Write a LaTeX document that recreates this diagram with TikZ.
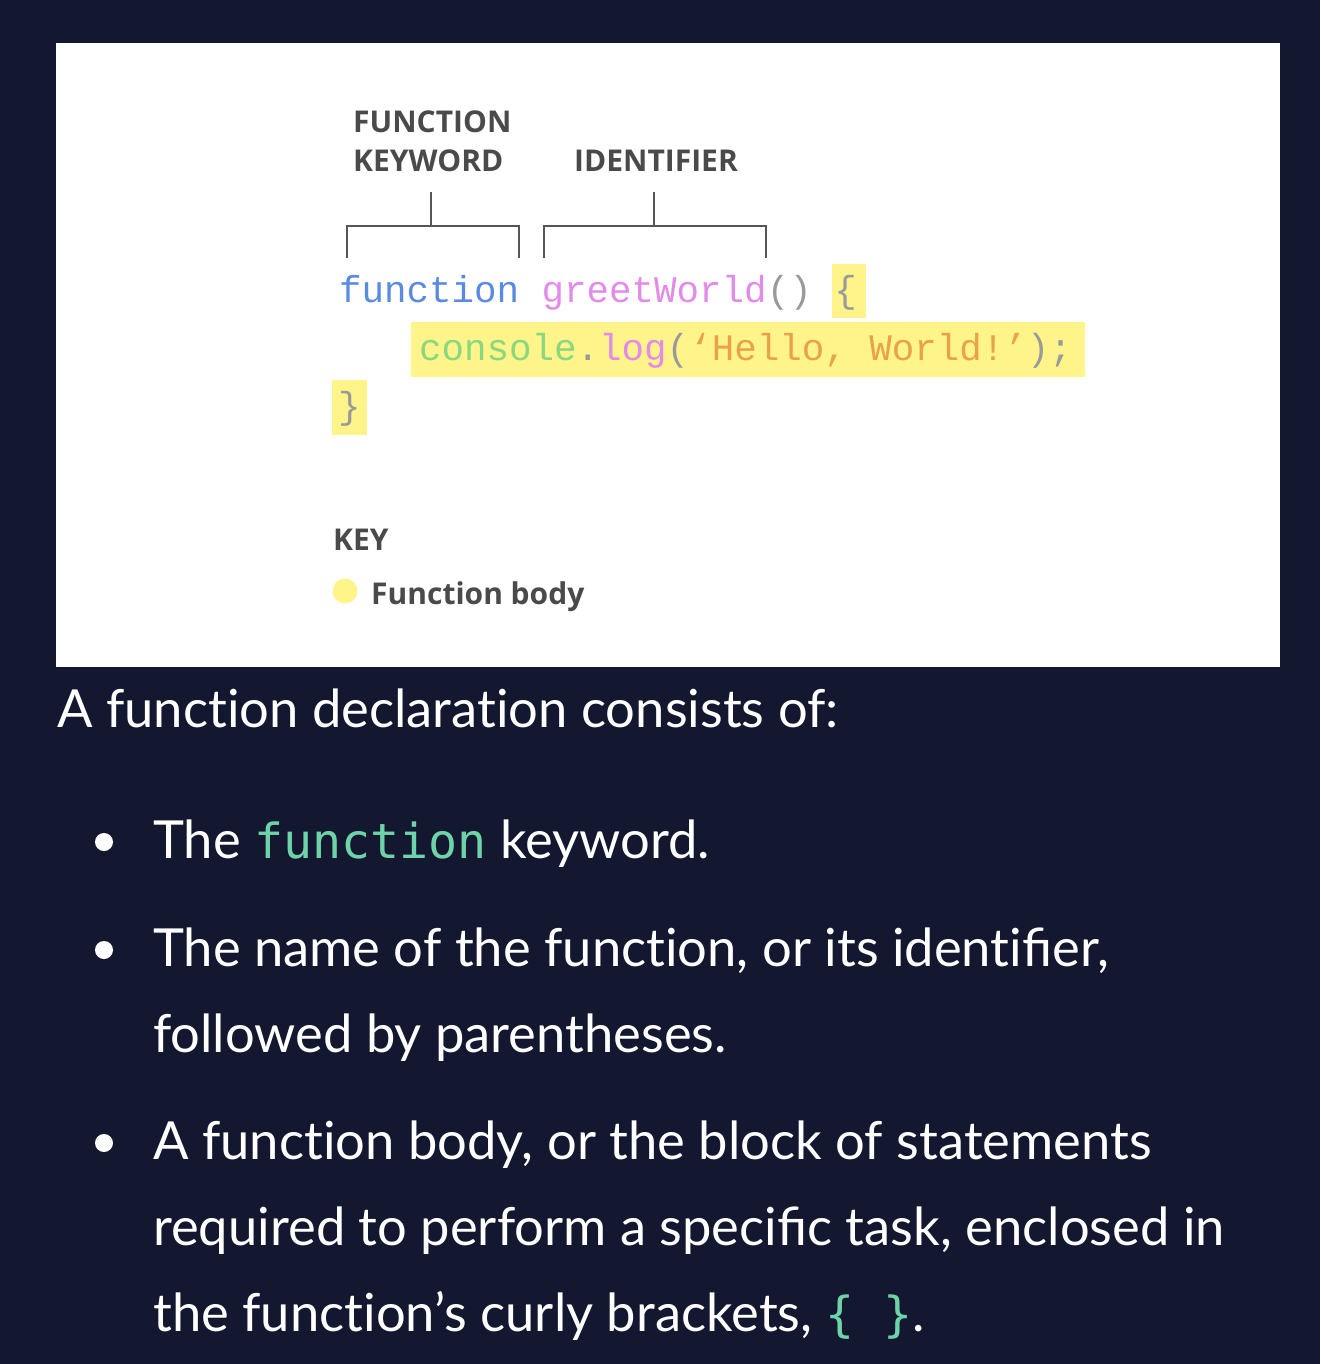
\documentclass[tikz,border=0pt]{standalone}
\usepackage{fontspec}
\setmainfont{Lato}[RawFeature={-liga;-dlig}]
\newfontfamily\lbl{Open Sans}
\newfontfamily\cmono{Liberation Mono}
\newfontfamily\imono{DejaVu Sans Mono}
\definecolor{bg}{HTML}{131830}
\definecolor{lblc}{HTML}{4A4A4A}
\definecolor{brk}{HTML}{555555}
\definecolor{hl}{HTML}{FFF48A}
\definecolor{kwblue}{HTML}{5A8BE0}
\definecolor{idpink}{HTML}{E38BE8}
\definecolor{pgrey}{HTML}{9A9A9A}
\definecolor{cgreen}{HTML}{8AD77E}
\definecolor{sorange}{HTML}{E8A24A}
\definecolor{mint}{HTML}{6ED3A8}
\tikzset{
  lbltext/.style={inner sep=0pt, anchor=base west, text=lblc, font=\lbl\fontsize{30}{34}\selectfont\bfseries},
  codetext/.style={inner sep=0pt, anchor=base west, font=\cmono\fontsize{37.5}{40}\selectfont},
  bodytext/.style={inner sep=0pt, anchor=base west, text=white, font=\fontsize{52.5}{56}\selectfont},
  bracketline/.style={draw=brk, line width=2.5pt},
  hlbox/.style={fill=hl, draw=none},
  bulletdot/.style={circle, fill=white, minimum size=18pt, inner sep=0pt}
}
\newcommand{\icode}[1]{\textcolor{mint}{\imono\fontsize{48.3}{56}\selectfont #1}}
\begin{document}
\begin{tikzpicture}[x=1pt,y=-1pt]
\useasboundingbox (0,0) rectangle (1320,1364);
\fill[bg] (0,0) rectangle (1320,1364);
\fill[white] (56,43) rectangle (1280,667);
% labels
\node[lbltext] (fk1) at (353,133) {FUNCTION};
\node[lbltext] (fk2) at (353,172) {KEYWORD};
\node[lbltext] (idl) at (574,172) {IDENTIFIER};
% brackets
\coordinate (b1t) at (431,192);
\coordinate (b1m) at (431,226);
\draw[bracketline] (347,258) -- (347,226) -- (519,226) -- (519,258);
\draw[bracketline] (b1t) -- (b1m);
\coordinate (b2t) at (654,192);
\coordinate (b2m) at (654,226);
\draw[bracketline] (544,258) -- (544,226) -- (766,226) -- (766,258);
\draw[bracketline] (b2t) -- (b2m);
% highlights
\fill[hlbox] (832,264) rectangle (866,318);
\fill[hlbox] (411,322) rectangle (1085,377);
\fill[hlbox] (332,380) rectangle (367,435);
% code
\node[codetext] (l1) at (339,302) {\textcolor{kwblue}{function} \textcolor{idpink}{greetWorld}\textcolor{pgrey}{()} \textcolor{pgrey}{\{}};
\node[codetext] (l2) at (419,360) {\textcolor{cgreen}{console}\textcolor{pgrey}{.}\textcolor{idpink}{log}\textcolor{pgrey}{(}\textcolor{sorange}{‘Hello, World!’}\textcolor{pgrey}{);}};
\node[codetext] (l3) at (338,418) {\textcolor{pgrey}{\}}};
% key
\node[lbltext] (key) at (333,550) {KEY};
\node[circle, fill=hl, minimum size=25pt, inner sep=0pt] (kdot) at (345,591) {};
\node[lbltext] (kb) at (371,604) {Function body};
% body text
\node[bodytext] (intro) at (57,727) {A function declaration consists of:};
\node[bulletdot] (d1) at (104,842) {};
\node[bodytext] (t1) at (153,858) {The \icode{function} keyword.};
\node[bulletdot] (d2) at (104,950) {};
\node[bodytext] (t2a) at (153,966) {The name of the function, or its identiﬁer,};
\node[bodytext] (t2b) at (153,1052) {followed by parentheses.};
\node[bulletdot] (d3) at (104,1143) {};
\node[bodytext] (t3a) at (153,1159) {A function body, or the block of statements};
\node[bodytext] (t3b) at (153,1245) {required to perform a speciﬁc task, enclosed in};
\node[bodytext] (t3c) at (153,1331) {the function’s curly brackets, \icode{\{ \}}.};
\end{tikzpicture}
\end{document}
